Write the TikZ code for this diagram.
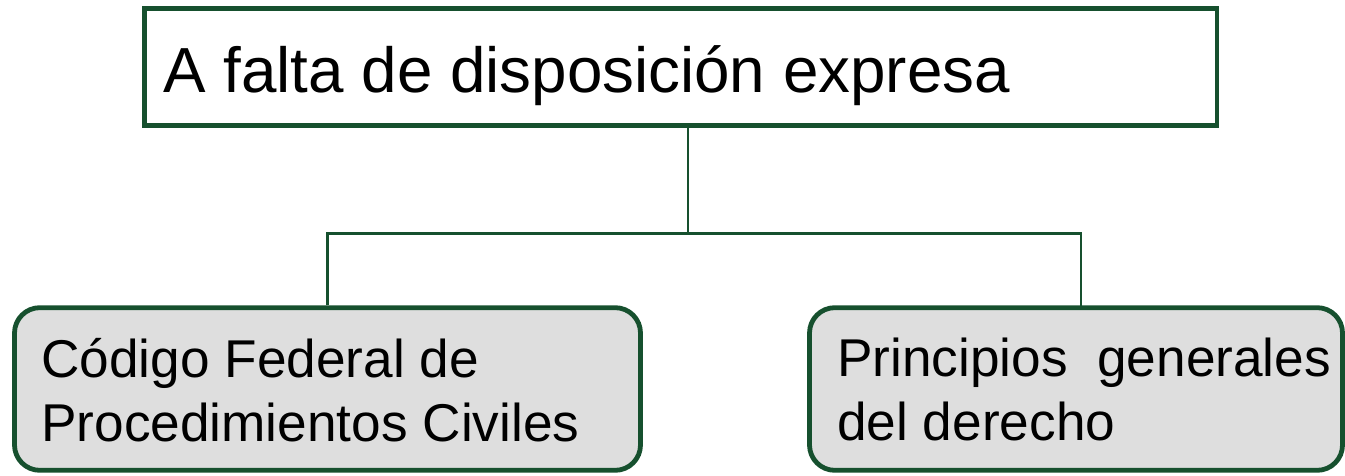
\documentclass[tikz,border=0pt]{standalone}
\usepackage{fontspec}
\setmainfont{Liberation Sans}
\definecolor{dgreen}{RGB}{22,80,46}
\definecolor{boxgray}{RGB}{222,222,222}
\begin{document}
\begin{tikzpicture}[x=0.75pt,y=-0.75pt,
  topbox/.style={draw=dgreen, line width=3.4pt, rectangle, minimum width=804.4pt, minimum height=88.1pt, inner sep=0pt},
  subbox/.style={draw=dgreen, fill=boxgray, line width=3.6pt, rounded corners=19pt, minimum height=122pt, inner sep=0pt},
  conn/.style={draw=dgreen, line width=1.8pt},
  toptxt/.style={anchor=base west, inner sep=0pt, font=\fontsize{47.8pt}{58pt}\selectfont},
  subtxt/.style={anchor=base west, inner sep=0pt, align=left, font=\fontsize{39.9pt}{48pt}\selectfont}]
\useasboundingbox (0,0) rectangle (1345,475);
\node[topbox] (top) at (680.5,67) {};
\node[toptxt] (toptext) at (163,92) {A falta de disposición expresa};
\node[subbox, minimum width=469.5pt] (left) at (327.5,389) {};
\node[subbox, minimum width=399.75pt] (right) at (1076,389) {};
\node[subtxt] (lefttext) at (41,441) {Código Federal de\\Procedimientos Civiles};
\node[subtxt] (righttext) at (837,440) {Principios\ \ generales\\del derecho};
\coordinate (j) at (688,233.5);
\coordinate (rtop) at (1081,307.5);
\draw[conn] (top.south -| j) -- (j);
\draw[conn] (left.north) |- (j) -| (rtop);
\end{tikzpicture}
\end{document}
